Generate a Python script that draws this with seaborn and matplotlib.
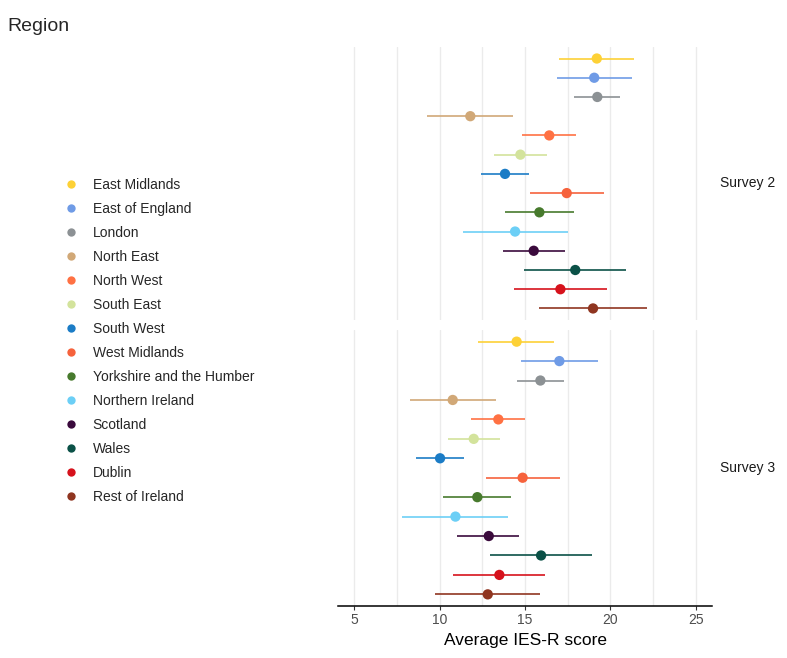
import matplotlib.pyplot as plt
import numpy as np
import pandas as pd
import seaborn as sns
from matplotlib.lines import Line2D

regions = ["East Midlands", "East of England", "London", "North East", "North West",
           "South East", "South West", "West Midlands", "Yorkshire and the Humber",
           "Northern Ireland", "Scotland", "Wales", "Dublin", "Rest of Ireland"]
colors = ["#FDD136", "#6F9BE6", "#8C9194", "#D1A877", "#FF7143", "#D3E39C", "#1B7CC6",
          "#F6623C", "#477A2D", "#6CCFF6", "#3A0A3C", "#0B5147", "#D6121C", "#8F3520"]

surveys = ["Survey 2", "Survey 3"]
s2_mean = [19.2, 19.05, 19.23, 11.8, 16.42, 14.73, 13.83, 17.44, 15.84, 14.42, 15.51, 17.94, 17.07, 18.98]
s2_lo = [16.99, 16.87, 17.88, 9.27, 14.84, 13.21, 12.45, 15.29, 13.83, 11.35, 13.71, 14.96, 14.34, 15.84]
s2_hi = [21.39, 21.26, 20.57, 14.30, 18.00, 16.27, 15.23, 19.60, 17.85, 17.50, 17.32, 20.93, 19.80, 22.12]
s3_mean = [14.51, 17.01, 15.90, 10.77, 13.44, 12.00, 10.03, 14.86, 12.21, 10.93, 12.88, 15.94, 13.50, 12.82]
s3_lo = [12.27, 14.77, 14.53, 8.27, 11.84, 10.48, 8.65, 12.72, 10.20, 7.81, 11.04, 12.95, 10.79, 9.74]
s3_hi = [16.70, 19.25, 17.28, 13.28, 14.98, 13.54, 11.41, 17.03, 14.20, 13.99, 14.65, 18.90, 16.19, 15.90]

rows = []
for survey, m, lo, hi in [(surveys[0], s2_mean, s2_lo, s2_hi), (surveys[1], s3_mean, s3_lo, s3_hi)]:
    for i, r in enumerate(regions):
        rows.append({"survey": survey, "region": r, "pos": i, "mean": m[i], "lo": lo[i], "hi": hi[i]})
df = pd.DataFrame(rows)
palette = dict(zip(regions, colors))

sns.set_theme(style="white")
plt.rcParams["font.family"] = ["Liberation Sans", "DejaVu Sans"]

fig = plt.figure(figsize=(7.87, 6.58), dpi=100)
ax1 = fig.add_axes([0.4295, 0.5137, 0.4752, 0.4149])
ax2 = fig.add_axes([0.4295, 0.0790, 0.4752, 0.4195], sharex=ax1)

for ax, survey in zip([ax1, ax2], surveys):
    d = df[df["survey"] == survey]
    ax.hlines(d["pos"], d["lo"], d["hi"], colors=[palette[r] for r in d["region"]],
              lw=1.4, alpha=0.85, zorder=2)
    sns.scatterplot(data=d, x="mean", y="pos", hue="region", palette=palette,
                    s=55, edgecolor="none", legend=False, ax=ax, zorder=3)
    ax.set_ylim(13.6, -0.6)
    ax.set_xlim(4.06, 25.94)
    ax.set_yticks([])
    ax.set_ylabel("")
    ax.set_xlabel("")
    ax.set_xticks([5, 10, 15, 20, 25])
    ax.set_xticks([7.5, 12.5, 17.5, 22.5], minor=True)
    ax.grid(axis="x", which="both", color="#EBEBEB", lw=1.0)
    ax.set_axisbelow(True)
    for s in ax.spines.values():
        s.set_visible(False)
    pos = ax.get_position()
    fig.text(0.915, pos.y0 + pos.height / 2, survey, fontsize=10, color="#1A1A1A",
             va="center", ha="left")

ax1.tick_params(axis="x", which="both", bottom=False, labelbottom=False)
ax2.spines["bottom"].set_visible(True)
ax2.spines["bottom"].set_color("black")
ax2.spines["bottom"].set_linewidth(1.1)
ax2.tick_params(axis="x", which="major", bottom=True, length=3, width=0.8, color="#333333",
                labelsize=10, labelcolor="#4D4D4D", pad=2)
ax2.tick_params(axis="x", which="minor", bottom=False)
ax2.set_xlabel("Average IES-R score", fontsize=12.5, color="black", labelpad=4)

handles = [Line2D([0], [0], marker="o", ls="", markersize=6, markerfacecolor=c,
                  markeredgecolor="none") for c in colors]
fig.legend(handles, regions, loc="upper left", bbox_to_anchor=(0.072, 0.738),
           frameon=False, fontsize=10, labelspacing=0.72, handletextpad=1.0,
           handlelength=1.2, borderaxespad=0)
fig.text(0.01, 0.972, "Region", fontsize=14, va="top", ha="left")

fig.savefig("out.png", dpi=100)
